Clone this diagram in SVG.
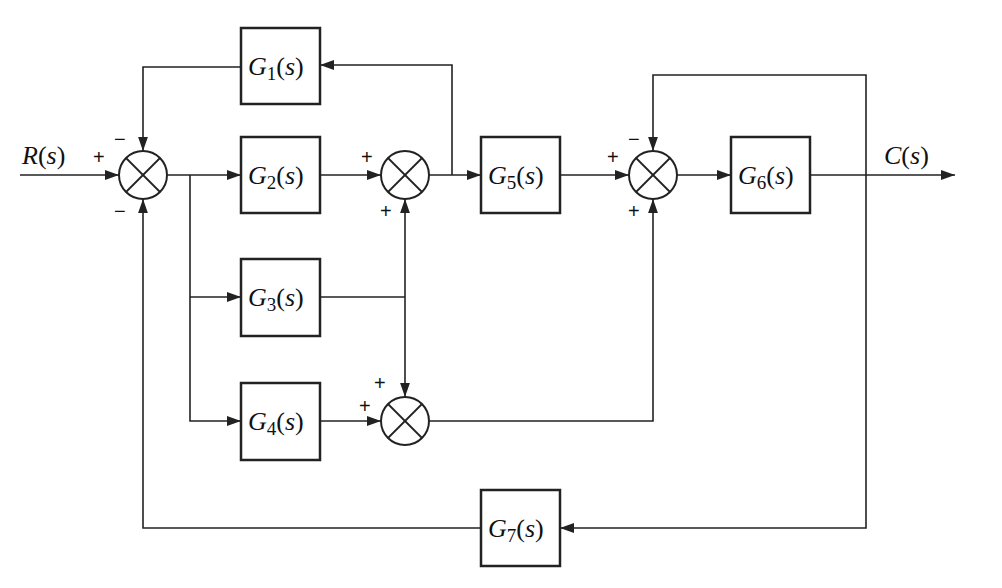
<svg xmlns="http://www.w3.org/2000/svg" width="1002" height="588" viewBox="0 0 1002 588">
<style>
.b{fill:#fff;stroke:#222;stroke-width:2.5}
.l{fill:none;stroke:#222;stroke-width:1.6}
.s{fill:#fff;stroke:#222;stroke-width:2}
text{font-family:"Liberation Serif",serif;font-size:26px;fill:#111}
.i{font-style:italic}
.sg{font-family:"Liberation Sans",sans-serif;font-size:20px}
</style>
<defs>
<marker id="a" viewBox="0 0 10 10" refX="10" refY="5" markerWidth="14" markerHeight="14" markerUnits="userSpaceOnUse" orient="auto"><path d="M0,1.5L10,5L0,8.5z" fill="#222"/></marker>
<g id="x"><line x1="-17" y1="-17" x2="17" y2="17" stroke="#222" stroke-width="1.8"/><line x1="-17" y1="17" x2="17" y2="-17" stroke="#222" stroke-width="1.8"/></g>
</defs>
<g id="connectors">
<path class="l" d="M20,175H119" marker-end="url(#a)"/>
<path class="l" d="M167,175H241" marker-end="url(#a)"/>
<path class="l" d="M190,175V421H241" marker-end="url(#a)"/>
<path class="l" d="M190,297H241" marker-end="url(#a)"/>
<path class="l" d="M320,175H381" marker-end="url(#a)"/>
<path class="l" d="M429,175H481" marker-end="url(#a)"/>
<path class="l" d="M452,175V65H320" marker-end="url(#a)"/>
<path class="l" d="M241,67H143V151" marker-end="url(#a)"/>
<path class="l" d="M320,297H405"/>
<path class="l" d="M405,297V199" marker-end="url(#a)"/>
<path class="l" d="M405,297V397" marker-end="url(#a)"/>
<path class="l" d="M320,421H381" marker-end="url(#a)"/>
<path class="l" d="M429,421H653V199" marker-end="url(#a)"/>
<path class="l" d="M560,175H629" marker-end="url(#a)"/>
<path class="l" d="M677,175H731" marker-end="url(#a)"/>
<path class="l" d="M810,175H955" marker-end="url(#a)"/>
<path class="l" d="M866,175V75H653V151" marker-end="url(#a)"/>
<path class="l" d="M866,175V528H560" marker-end="url(#a)"/>
<path class="l" d="M481,528H143V199" marker-end="url(#a)"/>
</g>
<g id="S1"><circle class="s" cx="143" cy="175" r="24"/><use href="#x" x="143" y="175"/><text class="sg" x="93" y="164">+</text><text class="sg" x="114" y="146">−</text><text class="sg" x="114" y="218">−</text></g>
<g id="S2"><circle class="s" cx="405" cy="175" r="24"/><use href="#x" x="405" y="175"/><text class="sg" x="361" y="164">+</text><text class="sg" x="380" y="218">+</text></g>
<g id="S3"><circle class="s" cx="653" cy="175" r="24"/><use href="#x" x="653" y="175"/><text class="sg" x="607" y="164">+</text><text class="sg" x="628" y="146">−</text><text class="sg" x="628" y="218">+</text></g>
<g id="S4"><circle class="s" cx="405" cy="421" r="24"/><use href="#x" x="405" y="421"/><text class="sg" x="374" y="390">+</text><text class="sg" x="359" y="413">+</text></g>
<g id="G1"><rect class="b" x="241" y="28" width="79" height="76"/><text x="248" y="75"><tspan class="i">G</tspan><tspan font-size="19" dy="5">1</tspan><tspan dy="-5">(</tspan><tspan class="i">s</tspan>)</text></g>
<g id="G2"><rect class="b" x="241" y="137" width="79" height="76"/><text x="248" y="184"><tspan class="i">G</tspan><tspan font-size="19" dy="5">2</tspan><tspan dy="-5">(</tspan><tspan class="i">s</tspan>)</text></g>
<g id="G3"><rect class="b" x="241" y="259" width="79" height="77"/><text x="248" y="306"><tspan class="i">G</tspan><tspan font-size="19" dy="5">3</tspan><tspan dy="-5">(</tspan><tspan class="i">s</tspan>)</text></g>
<g id="G4"><rect class="b" x="241" y="383" width="79" height="77"/><text x="248" y="430"><tspan class="i">G</tspan><tspan font-size="19" dy="5">4</tspan><tspan dy="-5">(</tspan><tspan class="i">s</tspan>)</text></g>
<g id="G5"><rect class="b" x="481" y="137" width="79" height="76"/><text x="488" y="184"><tspan class="i">G</tspan><tspan font-size="19" dy="5">5</tspan><tspan dy="-5">(</tspan><tspan class="i">s</tspan>)</text></g>
<g id="G6"><rect class="b" x="731" y="137" width="79" height="76"/><text x="738" y="184"><tspan class="i">G</tspan><tspan font-size="19" dy="5">6</tspan><tspan dy="-5">(</tspan><tspan class="i">s</tspan>)</text></g>
<g id="G7"><rect class="b" x="481" y="490" width="79" height="76"/><text x="488" y="537"><tspan class="i">G</tspan><tspan font-size="19" dy="5">7</tspan><tspan dy="-5">(</tspan><tspan class="i">s</tspan>)</text></g>
<g id="labels"><text x="22" y="164"><tspan class="i">R</tspan>(<tspan class="i">s</tspan>)</text><text x="884" y="164"><tspan class="i">C</tspan>(<tspan class="i">s</tspan>)</text></g>
</svg>
